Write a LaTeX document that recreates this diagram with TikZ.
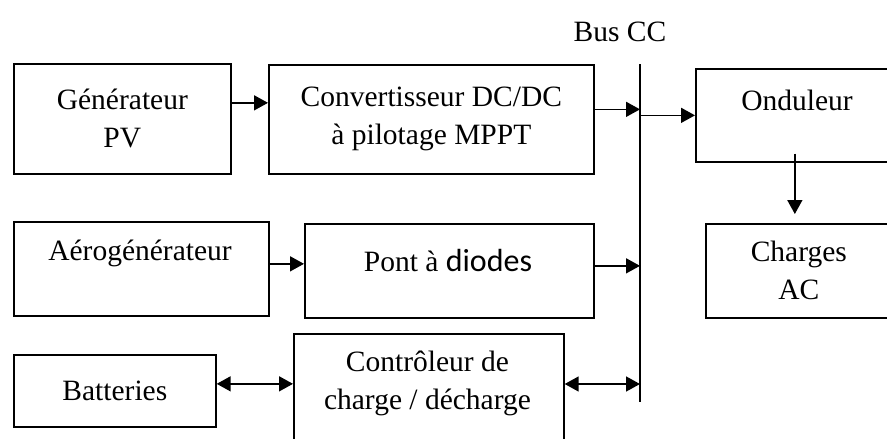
\documentclass[tikz,border=0pt]{standalone}
\usepackage{fontspec}
\setmainfont{Liberation Serif}
\newfontfamily\calib{Carlito}
\usetikzlibrary{arrows.meta}
\begin{document}
\begin{tikzpicture}[x=1pt,y=-1pt,
  every node/.style={font=\fontsize{29.5}{38}\selectfont},
  blockbox/.style={draw, line width=1.7pt, inner sep=0pt, anchor=north west, align=center},
  lbl/.style={inner sep=0pt, align=center},
  arr/.style={line width=1.6pt, -{Triangle[length=14pt,width=15pt]}},
  darr/.style={line width=1.6pt, {Triangle[length=14pt,width=15pt]}-{Triangle[length=14pt,width=15pt]}}]
\path[use as bounding box] (0,0) rectangle (887,439);
\clip (0,0) rectangle (887,439);

% blocks
\node[blockbox, minimum width=217pt, minimum height=110pt] (pv) at (13,63) {G\'en\'erateur\\PV};
\node[blockbox, minimum width=325pt, minimum height=109pt] (conv) at (268,64) {Convertisseur DC/DC\\\`a pilotage MPPT};
\node[blockbox, minimum width=204pt, minimum height=93pt] (ond) at (695,68) {};
\node[lbl] (ondtxt) at (797,100) {Onduleur};
\node[blockbox, minimum width=186pt, minimum height=94pt] (chg) at (705,223) {Charges\\AC};
\node[blockbox, minimum width=255pt, minimum height=94pt] (aero) at (13,221) {};
\node[lbl] (aerotxt) at (140,253) {A\'erog\'en\'erateur};
\node[blockbox, minimum width=289pt, minimum height=94pt] (pont) at (304,223) {};
\node[lbl] (ponttxt) at (448,261) {Pont \`a {\calib\fontsize{32}{38}\selectfont diodes}};
\node[blockbox, minimum width=202pt, minimum height=72pt] (bat) at (13,354) {Batteries};
\node[blockbox, minimum width=270pt, minimum height=150pt] (ctl) at (293,333) {};
\node[lbl] (ctltxt) at (427.5,383) {Contr\^oleur de\\charge / d\'echarge};

% DC bus
\coordinate (bustop) at (640,64);
\coordinate (busbot) at (640,402);
\draw[line width=1.6pt] (bustop) -- (busbot);
\node[lbl] (buslbl) at (620,32) {Bus CC};

% connections
\draw[arr] ([yshift=16pt]pv.east) -- ([yshift=16pt]pv.east -| conv.west);
\draw[arr] ([yshift=10pt]conv.east) -- ([yshift=10pt]conv.east -| bustop);
\draw[arr] (ond.west -| bustop) -- (ond.west);
\draw[arr] ([xshift=-3pt,yshift=9pt]ond.south) -- ([xshift=-3pt,yshift=9pt]ond.south |- chg.north);
\draw[arr] ([yshift=5pt]aero.east) -- ([yshift=5pt]aero.east -| pont.west);
\draw[arr] ([yshift=5pt]pont.east) -- ([yshift=5pt]pont.east -| bustop);
\draw[darr] ([yshift=7pt]bat.east) -- ([yshift=7pt]bat.east -| ctl.west);
\draw[darr] (ctl.east |- 0,384) -- (bustop |- 0,384);
\end{tikzpicture}
\end{document}
